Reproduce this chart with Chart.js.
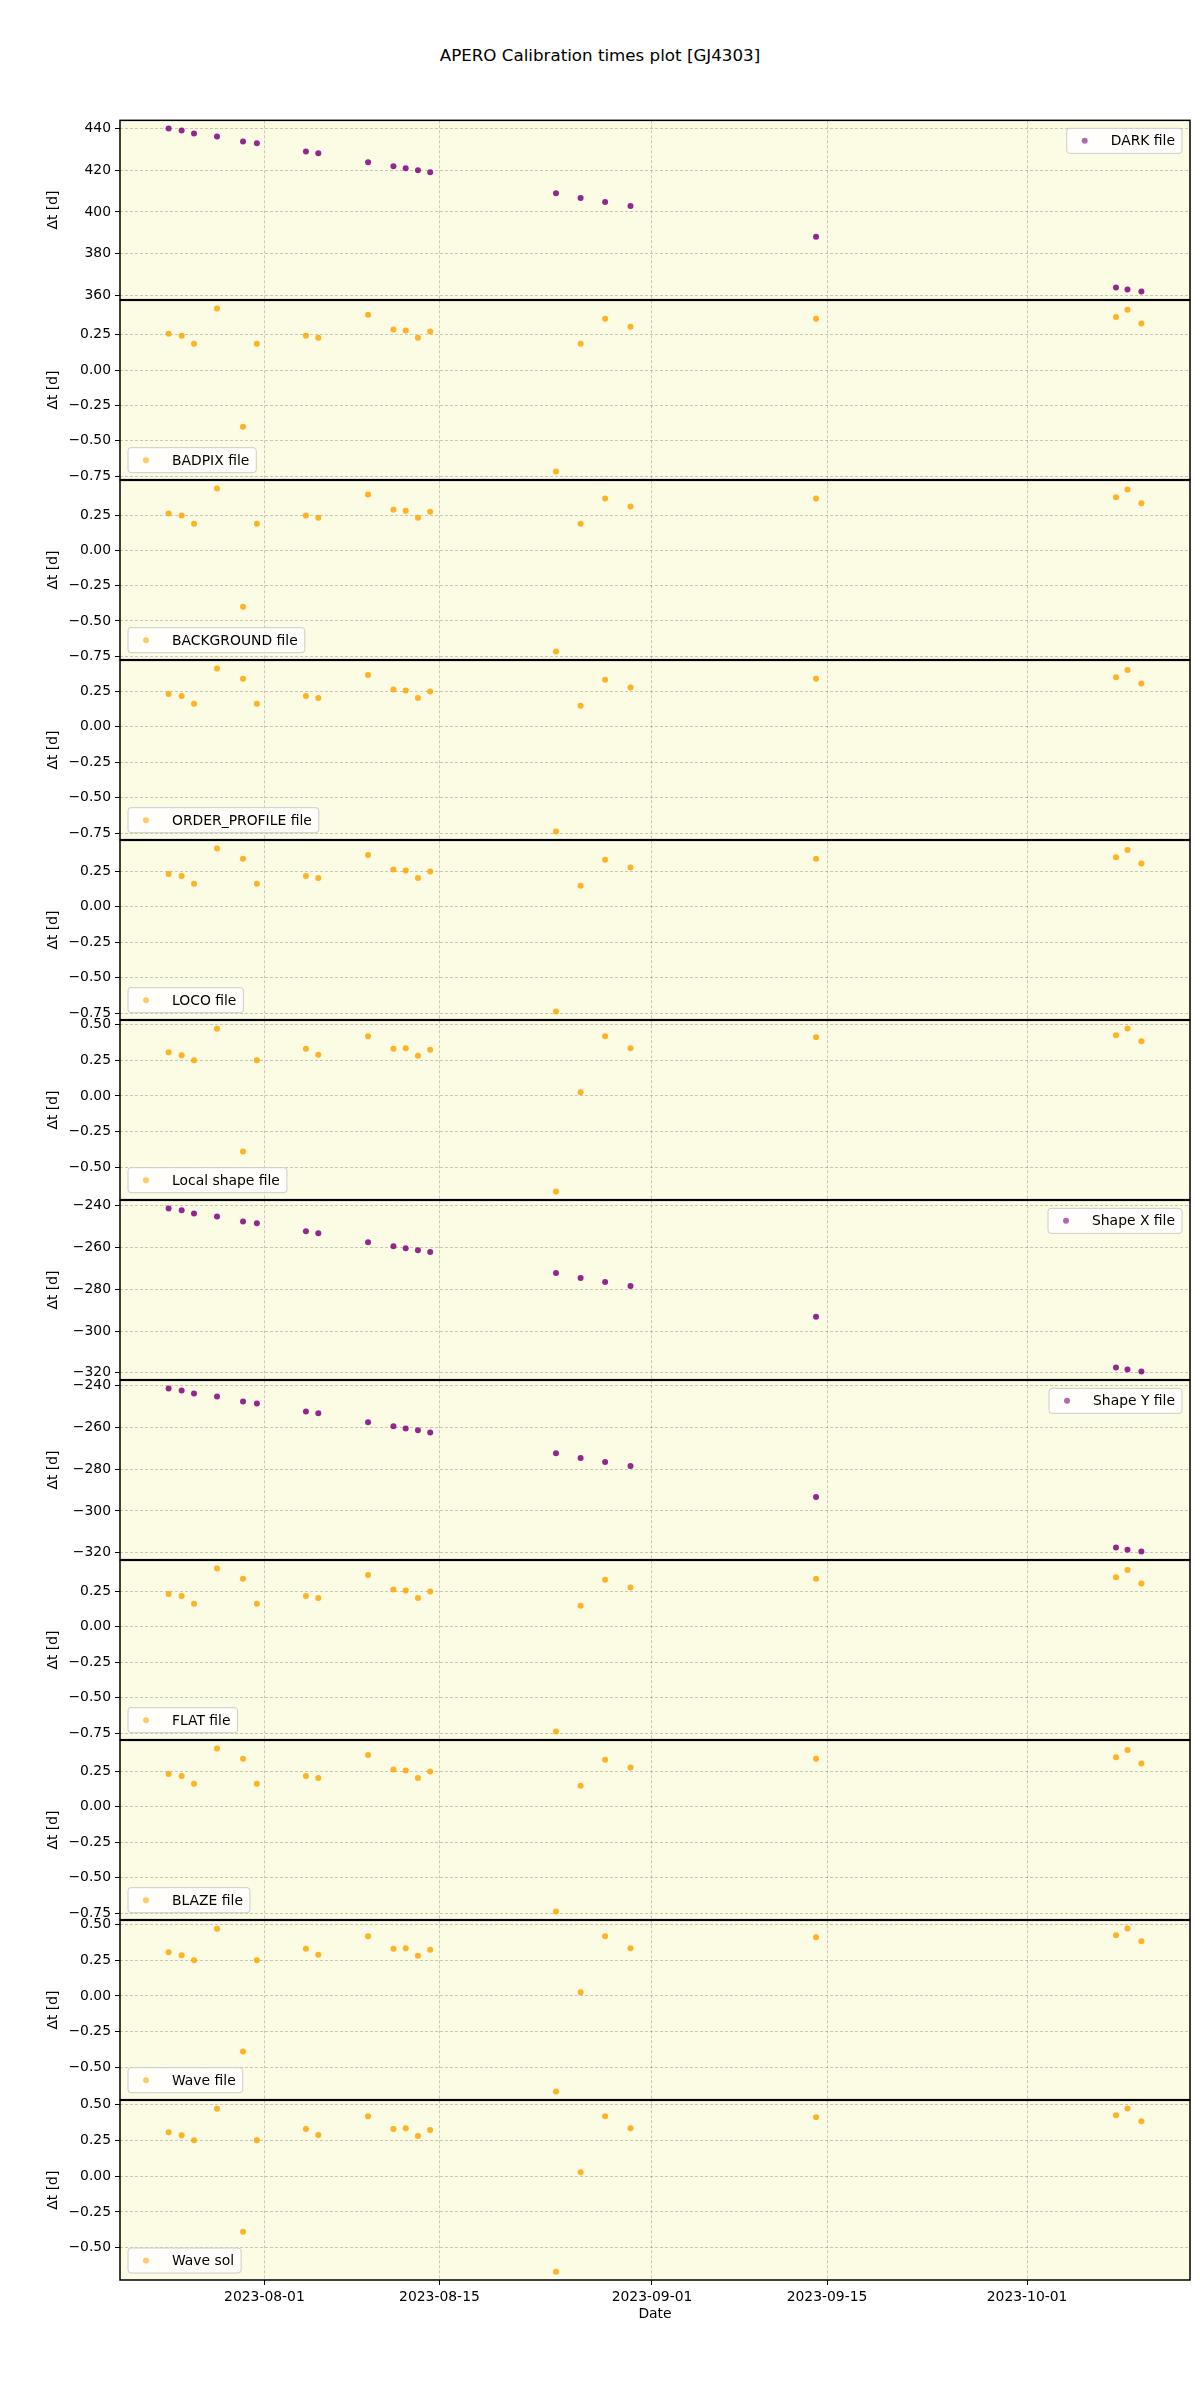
<!DOCTYPE html>
<html>
<head>
<meta charset="utf-8">
<script src="https://cdn.jsdelivr.net/npm/chart.js@4.4.0/dist/chart.umd.min.js"></script>
<style>
body { margin:0; background:#fff; width:1200px; height:2400px; position:relative; font-family:'DejaVu Sans', sans-serif; }
#title { position:absolute; top:45px; left:0; width:1200px; text-align:center; font-size:16.7px; color:#000; }
.panel { position:absolute; left:0; width:1200px; }
</style>
</head>
<body>
<div id="title">APERO Calibration times plot [GJ4303]</div>
<div id="panels"></div>
<script>
// observation times (UTC)
const obsDates = [
  '2023-07-24T08:10:00Z', '2023-07-25T09:07:00Z', '2023-07-26T08:53:00Z', '2023-07-28T05:02:00Z',
  '2023-07-30T06:58:00Z', '2023-07-31T09:36:00Z', '2023-08-04T07:41:00Z', '2023-08-05T07:26:00Z',
  '2023-08-09T06:58:00Z', '2023-08-11T07:41:00Z', '2023-08-12T07:12:00Z', '2023-08-13T06:43:00Z',
  '2023-08-14T06:14:00Z', '2023-08-24T07:41:00Z', '2023-08-26T06:58:00Z', '2023-08-28T06:00:00Z',
  '2023-08-30T06:43:00Z', '2023-09-14T02:53:00Z', '2023-10-08T02:38:00Z', '2023-10-09T00:43:00Z',
  '2023-10-10T03:22:00Z'
];
const xTickLabels = ['2023-08-01', '2023-08-15', '2023-09-01', '2023-09-15', '2023-10-01'];

// delta t [d] per calibration file
const darkDt = [440.0, 439.0, 437.6, 436.2, 433.8, 432.9, 429.0, 428.1, 423.8, 421.9, 421.0,
  420.0, 419.0, 409.0, 406.7, 404.8, 402.9, 388.1, 363.8, 362.9, 361.9];
const badpixDt = [0.257, 0.243, 0.186, 0.436, -0.401, 0.186, 0.243, 0.229, 0.392, 0.288, 0.281,
  0.229, 0.274, -0.717, 0.186, 0.363, 0.307, 0.363, 0.375, 0.427, 0.330];
const backgroundDt = [0.262, 0.248, 0.189, 0.439, -0.399, 0.189, 0.248, 0.231, 0.396, 0.288, 0.281,
  0.231, 0.274, -0.717, 0.189, 0.368, 0.311, 0.368, 0.377, 0.432, 0.335];
// ORDER_PROFILE, LOCO, FLAT and BLAZE share the same night
const orderProfileDt = [0.232, 0.218, 0.162, 0.411, 0.338, 0.162, 0.218, 0.204, 0.366, 0.263, 0.256,
  0.204, 0.249, -0.737, 0.148, 0.331, 0.277, 0.338, 0.350, 0.401, 0.305];
// local shape, wave file and wave sol
const localShapeDt = [0.305, 0.284, 0.249, 0.469, -0.387, 0.249, 0.329, 0.287, 0.417, 0.329, 0.333,
  0.280, 0.322, -0.667, 0.026, 0.417, 0.333, 0.410, 0.424, 0.471, 0.382];
const shapeXDt = [-241.3, -242.2, -243.7, -245.1, -247.5, -248.4, -252.2, -253.2, -257.5, -259.4, -260.3,
  -261.3, -262.2, -272.2, -274.6, -276.5, -278.4, -293.2, -317.5, -318.4, -319.4];
const shapeYDt = [-241.4, -242.4, -243.8, -245.2, -247.6, -248.6, -252.4, -253.3, -257.6, -259.5, -260.5,
  -261.4, -262.4, -272.4, -274.7, -276.6, -278.5, -293.3, -317.5, -318.5, -319.4];

const PURPLE = 'rgba(128, 0, 128, 0.85)';
const ORANGE = 'rgba(255, 165, 0, 0.85)';

const panels = [
  {label: 'DARK file', values: darkDt, color: PURPLE, step: 20, legend: 'upper right'},
  {label: 'BADPIX file', values: badpixDt, color: ORANGE, step: 0.25, legend: 'lower left'},
  {label: 'BACKGROUND file', values: backgroundDt, color: ORANGE, step: 0.25, legend: 'lower left'},
  {label: 'ORDER_PROFILE file', values: orderProfileDt, color: ORANGE, step: 0.25, legend: 'lower left'},
  {label: 'LOCO file', values: orderProfileDt, color: ORANGE, step: 0.25, legend: 'lower left'},
  {label: 'Local shape file', values: localShapeDt, color: ORANGE, step: 0.25, legend: 'lower left'},
  {label: 'Shape X file', values: shapeXDt, color: PURPLE, step: 20, legend: 'upper right'},
  {label: 'Shape Y file', values: shapeYDt, color: PURPLE, step: 20, legend: 'upper right'},
  {label: 'FLAT file', values: orderProfileDt, color: ORANGE, step: 0.25, legend: 'lower left'},
  {label: 'BLAZE file', values: orderProfileDt, color: ORANGE, step: 0.25, legend: 'lower left'},
  {label: 'Wave file', values: localShapeDt, color: ORANGE, step: 0.25, legend: 'lower left'},
  {label: 'Wave sol', values: localShapeDt, color: ORANGE, step: 0.25, legend: 'lower left'}
];

// days since 2023-08-01
const T0 = Date.parse('2023-08-01T00:00:00Z');
const toDays = s => (Date.parse(s.length === 10 ? s + 'T00:00:00Z' : s) - T0) / 86400000;
const obsDays = obsDates.map(toDays);
const xTickDays = xTickLabels.map(toDays);

function withMargin(vals) {
  const lo = Math.min(...vals), hi = Math.max(...vals);
  const pad = (hi - lo) * 0.05;
  return [lo - pad, hi + pad];
}
const [xMin, xMax] = withMargin(obsDays);

Chart.defaults.font.family = "'DejaVu Sans', sans-serif";
Chart.defaults.font.size = 13.9;
Chart.defaults.color = '#000';

const BG = '#fcfbe3';
const GRID = 'rgba(0, 0, 0, 0.2)';

const panelFrame = {
  id: 'panelFrame',
  beforeDraw(chart) {
    const {ctx, chartArea: a} = chart;
    ctx.save();
    ctx.fillStyle = BG;
    ctx.fillRect(a.left, a.top, a.width, a.height);
    ctx.restore();
  },
  afterDatasetsDraw(chart) {
    const {ctx, chartArea: a} = chart;
    ctx.save();
    ctx.strokeStyle = '#000';
    ctx.lineWidth = 1.5;
    ctx.strokeRect(a.left, a.top, a.width, a.height);
    ctx.restore();
  }
};

const panelLegend = {
  id: 'panelLegend',
  afterDraw(chart, args, opts) {
    const {ctx, chartArea: a} = chart;
    ctx.save();
    ctx.font = "13.9px 'DejaVu Sans'";
    const w = 44 + ctx.measureText(opts.text).width + 7, h = 25;
    const x = opts.pos === 'upper right' ? a.right - 8 - w : a.left + 8;
    const y = opts.pos === 'upper right' ? a.top + 8 : a.bottom - 7 - h;
    ctx.beginPath();
    ctx.roundRect(x, y, w, h, 3);
    ctx.fillStyle = 'rgba(255,255,255,0.8)';
    ctx.fill();
    ctx.strokeStyle = '#cccccc';
    ctx.lineWidth = 1;
    ctx.stroke();
    ctx.beginPath();
    ctx.arc(x + 18, y + h / 2, 3, 0, 2 * Math.PI);
    ctx.globalAlpha = 0.7;
    ctx.fillStyle = opts.color;
    ctx.fill();
    ctx.globalAlpha = 1;
    ctx.fillStyle = '#000';
    ctx.textBaseline = 'middle';
    ctx.fillText(opts.text, x + 44, y + h / 2 + 1);
    ctx.restore();
  }
};

function fmtTick(v, digits) {
  if (Math.abs(v) < 1e-9) v = 0;
  return (v < 0 ? '\u2212' : '') + Math.abs(v).toFixed(digits);
}

const PANEL_TOP = 120, PANEL_H = 180, PAD = 12, X_AXIS_H = 45;
const holder = document.getElementById('panels');

panels.forEach((p, i) => {
  const last = i === panels.length - 1;
  const div = document.createElement('div');
  div.className = 'panel';
  div.style.top = (PANEL_TOP + i * PANEL_H - PAD) + 'px';
  div.style.height = (PAD + PANEL_H + (last ? X_AXIS_H : PAD)) + 'px';
  const cv = document.createElement('canvas');
  div.appendChild(cv);
  holder.appendChild(div);

  const [yMin, yMax] = withMargin(p.values);
  const digits = p.step < 1 ? 2 : 0;

  new Chart(cv, {
    type: 'scatter',
    data: {
      datasets: [{
        label: p.label,
        data: obsDays.map((x, j) => ({x: x, y: p.values[j]})),
        backgroundColor: p.color,
        borderWidth: 0,
        pointRadius: 3,
        pointHoverRadius: 3
      }]
    },
    options: {
      responsive: true,
      maintainAspectRatio: false,
      animation: false,
      devicePixelRatio: 1,
      layout: {padding: {top: PAD, bottom: last ? 0 : PAD, left: 0, right: 10}},
      plugins: {
        legend: {display: false},
        tooltip: {enabled: false},
        panelLegend: {text: p.label, pos: p.legend, color: p.color}
      },
      scales: {
        x: {
          type: 'linear',
          min: xMin,
          max: xMax,
          afterBuildTicks: s => { s.ticks = xTickDays.map(v => ({value: v})); },
          afterFit: s => { s.height = last ? X_AXIS_H : 0; },
          ticks: {
            display: last,
            autoSkip: false,
            maxRotation: 0,
            padding: 4,
            callback: (v, idx) => xTickLabels[idx]
          },
          grid: {color: GRID, drawTicks: last, tickLength: 5, tickColor: '#000', tickBorderDash: []},
          border: {display: false, dash: [3, 2]},
          title: {display: last, text: 'Date', padding: {top: 0, bottom: 2}}
        },
        y: {
          min: yMin,
          max: yMax,
          afterFit: s => { s.width = 120; },
          ticks: {
            stepSize: p.step,
            includeBounds: false,
            padding: 4,
            callback: v => fmtTick(v, digits)
          },
          grid: {color: GRID, tickLength: 5, tickColor: '#000', tickBorderDash: []},
          border: {display: false, dash: [3, 2]},
          title: {display: true, text: '\u0394t [d]', padding: {top: 45, bottom: 0}}
        }
      }
    },
    plugins: [panelFrame, panelLegend]
  });
});
</script>
</body>
</html>
